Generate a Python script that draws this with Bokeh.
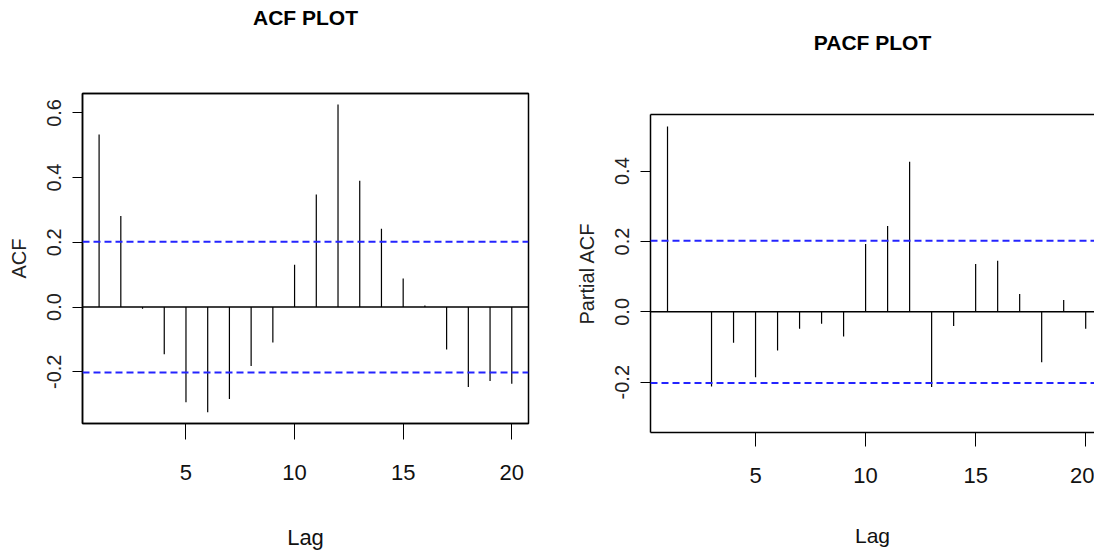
from bokeh.plotting import figure
from bokeh.models import Range1d, FixedTicker, Span, LinearAxis, PrintfTickFormatter, Spacer
from bokeh.layouts import row, column
from bokeh.embed import file_html
from bokeh.resources import INLINE

lags = list(range(1, 21))
acf_values = [0.533, 0.281, -0.005, -0.146, -0.294, -0.325, -0.284, -0.182, -0.110, 0.131,
              0.348, 0.626, 0.390, 0.242, 0.088, 0.005, -0.131, -0.247, -0.229, -0.237]
pacf_values = [0.527, 0.002, -0.212, -0.088, -0.186, -0.110, -0.048, -0.034, -0.070, 0.193,
               0.244, 0.427, -0.214, -0.040, 0.136, 0.145, 0.051, -0.143, 0.034, -0.048]
conf_limit = 0.202
x_ticks = [5, 10, 15, 20]
acf_y_ticks = [-0.2, 0.0, 0.2, 0.4, 0.6]
pacf_y_ticks = [-0.2, 0.0, 0.2, 0.4]

SANS = "Liberation Sans"


def make_panel(values, yticks, title, ylabel, width, height, x_range, y_range,
               b_left, b_right, b_top, b_bottom, title_gap, x_tick_out,
               xlab_standoff, xaxis_standoff, lag_size, outline):
    p = figure(width=width, height=height, output_backend="svg", toolbar_location=None,
               x_range=Range1d(*x_range), y_range=Range1d(*y_range),
               min_border_left=b_left, min_border_right=b_right,
               min_border_top=b_top, min_border_bottom=b_bottom, title=title)
    p.xgrid.visible = False
    p.ygrid.visible = False
    p.background_fill_color = "white"
    p.border_fill_color = "white"

    p.title.text_font = SANS
    p.title.text_font_size = "21px"
    p.title.text_font_style = "bold"
    p.title.align = "center"
    p.title.text_color = "black"
    p.title.standoff = 0

    # x axis
    xa = p.below[0]
    xa.ticker = FixedTicker(ticks=x_ticks)
    xa.major_tick_out = x_tick_out
    xa.major_tick_in = 0
    xa.minor_tick_out = 0
    xa.minor_tick_in = 0
    xa.axis_line_color = "black"
    xa.axis_line_width = 1.5
    xa.major_tick_line_color = "black"
    xa.major_label_text_font = SANS
    xa.major_label_text_font_size = "22px"
    xa.major_label_text_color = "#111111"
    xa.major_label_standoff = xlab_standoff
    xa.axis_label = "Lag"
    xa.axis_label_text_font = SANS
    xa.axis_label_text_font_size = lag_size
    xa.axis_label_text_font_style = "normal"
    xa.axis_label_text_color = "#111111"
    xa.axis_label_standoff = xaxis_standoff

    # y axis
    ya = p.left[0]
    ya.ticker = FixedTicker(ticks=yticks)
    ya.formatter = PrintfTickFormatter(format="%.1f")
    ya.major_tick_out = 10
    ya.major_tick_in = 0
    ya.minor_tick_out = 0
    ya.minor_tick_in = 0
    ya.axis_line_color = "black"
    ya.axis_line_width = 1.5
    ya.major_tick_line_color = "black"
    ya.major_label_orientation = "vertical"
    ya.major_label_text_font = SANS
    ya.major_label_text_font_size = "20px"
    ya.major_label_text_color = "#222222"
    ya.major_label_standoff = 11
    ya.axis_label = ylabel
    ya.axis_label_text_font = SANS
    ya.axis_label_text_font_size = "20px"
    ya.axis_label_text_font_style = "normal"
    ya.axis_label_text_color = "#222222"
    ya.axis_label_standoff = 15

    # top edge: an empty axis whose blank label standoff lifts the title
    top = LinearAxis(ticker=FixedTicker(ticks=[]), major_tick_out=0, major_tick_in=0,
                     minor_tick_out=0, minor_tick_in=0, major_label_text_font_size="0px",
                     axis_label=" ", axis_label_text_font_size="1px",
                     axis_label_standoff=title_gap,
                     axis_line_color="black", axis_line_width=1.5)
    p.add_layout(top, "above")

    if outline:
        p.outline_line_color = "black"
        p.outline_line_width = 1.5
    else:
        p.outline_line_color = None

    # confidence limits
    for loc in (conf_limit, -conf_limit):
        p.add_layout(Span(location=loc, dimension="width", line_color="#2424ff",
                          line_width=2, line_dash="7 4"))
    p.add_layout(Span(location=0, dimension="width", line_color="black", line_width=1.5))

    p.segment(x0=lags, y0=[0] * len(lags), x1=lags, y1=values,
              line_color="black", line_width=1.2)
    return p


p1 = make_panel(acf_values, acf_y_ticks, "ACF PLOT", "ACF", 570, 554,
                (0.236, 20.77), (-0.360, 0.660),
                82, 42, 93, 131, 61, 16, 25, 42, "22px", True)
p2 = make_panel(pacf_values, pacf_y_ticks, "PACF PLOT", "Partial ACF", 524, 533,
                (0.227, 20.40), (-0.343, 0.561),
                80, 0, 93, 122, 57, 14, 21, 38, "21px", False)

layout = row(column(p1), column(Spacer(width=524, height=21), p2))
open("out.html", "w").write(file_html(layout, INLINE))
